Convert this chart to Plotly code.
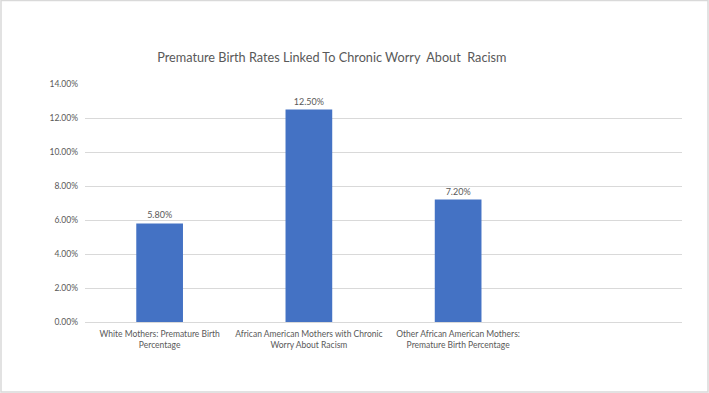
import plotly.graph_objects as go

categories = [
    "White Mothers: Premature Birth<br>Percentage",
    "African American Mothers with Chronic<br>Worry About Racism",
    "Other African American Mothers:<br>Premature Birth Percentage",
]
values = [0.058, 0.125, 0.072]
value_labels = ["5.80%", "12.50%", "7.20%"]
tick_vals = [0, 0.02, 0.04, 0.06, 0.08, 0.10, 0.12, 0.14]
tick_text = ["0.00%", "2.00%", "4.00%", "6.00%", "8.00%", "10.00%", "12.00%", "14.00%"]
title_text = "Premature Birth Rates Linked To Chronic Worry  About  Racism"

FONT = "Lato, Calibri, Carlito, sans-serif"
GRAY = "#595959"

fig = go.Figure()
fig.add_trace(go.Bar(
    x=categories,
    y=values,
    text=value_labels,
    textposition="outside",
    textfont=dict(family=FONT, size=9, color=GRAY),
    marker=dict(color="#4472C4", line=dict(width=0)),
    width=0.313,
    cliponaxis=False,
))

fig.update_layout(
    width=709, height=393,
    margin=dict(l=85, r=27, t=84, b=71),
    paper_bgcolor="white",
    plot_bgcolor="white",
    showlegend=False,
    title=dict(text=title_text, x=0.468, xanchor="center", y=0.853, yanchor="middle",
               font=dict(family=FONT, size=12.7, color=GRAY)),
    font=dict(family=FONT, color=GRAY),
    xaxis=dict(
        type="category",
        range=[-0.5, 3.5],
        showgrid=False,
        showline=True, linecolor="#d9d9d9", linewidth=1,
        ticks="outside", ticklen=4, tickcolor="rgba(0,0,0,0)",
        tickfont=dict(family=FONT, size=8.5, color=GRAY),
        fixedrange=True,
    ),
    yaxis=dict(
        range=[0, 0.14],
        tickvals=tick_vals, ticktext=tick_text,
        showgrid=True, gridcolor="#d9d9d9", gridwidth=1,
        zeroline=False, showline=False, ticks="",
        tickfont=dict(family=FONT, size=8.5, color=GRAY),
        ticklabelstandoff=6,
        fixedrange=True,
    ),
    shapes=[dict(
        type="rect", xref="paper", yref="paper",
        x0=(1 - 85) / 597, x1=(708 - 85) / 597,
        y0=(322 - 392) / 238, y1=(322 - 0.5) / 238,
        line=dict(color="#d9d9d9", width=1.5), fillcolor="rgba(0,0,0,0)",
    )],
)

fig.write_html(
    "out.html",
    config={"displayModeBar": False},
    post_script="document.body.style.margin='0';document.body.style.overflow='hidden';",
)
